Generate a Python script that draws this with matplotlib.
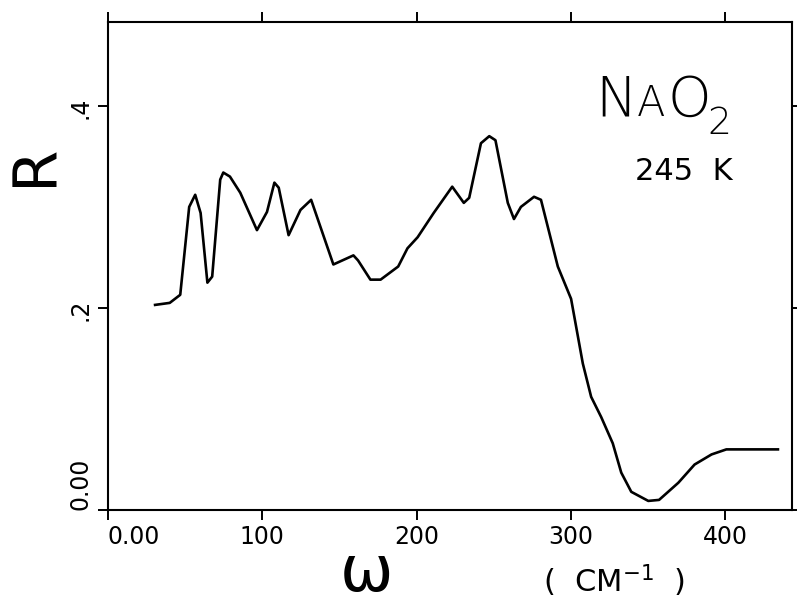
import matplotlib
matplotlib.use("Agg")
import matplotlib.pyplot as plt

# reflectivity of NaO2 at 245 K
omega = [30.5, 40, 46.8, 52.6, 56.5, 60, 64.4, 67.5, 72.7, 74.7, 79, 85.7, 96.5, 103,
         107.8, 110.6, 117, 124.7, 131.6, 146, 159, 162, 170, 176.6, 188, 194, 200.6,
         211, 223, 230.5, 234, 241.6, 247, 251, 259, 263, 267.5, 276, 280.5, 291.4,
         300, 307.6, 313, 319.5, 327, 332.5, 339, 350, 357, 369.5, 380, 391, 400.6, 434]
refl = [0.203, 0.205, 0.213, 0.300, 0.312, 0.294, 0.225, 0.231, 0.327, 0.334, 0.330,
        0.314, 0.277, 0.295, 0.324, 0.319, 0.272, 0.297, 0.307, 0.243, 0.252, 0.247,
        0.228, 0.228, 0.241, 0.259, 0.270, 0.294, 0.320, 0.304, 0.309, 0.363, 0.370,
        0.366, 0.304, 0.288, 0.300, 0.310, 0.307, 0.241, 0.209, 0.145, 0.112, 0.092,
        0.066, 0.037, 0.018, 0.009, 0.010, 0.027, 0.045, 0.055, 0.060, 0.060]

xticks = [0, 100, 200, 300, 400]
xlabels = ["0.00", "100", "200", "300", "400"]
yticks = [0, 0.2, 0.4]
ylabels = ["0.00", ".2", ".4"]

plt.rcParams["font.family"] = ["DejaVu Sans"]

fig = plt.figure(figsize=(7.97, 6.06), dpi=100)
ax = fig.add_axes([0.1355, 0.1584, 0.858, 0.8053])

ax.plot(omega, refl, color="black", lw=1.9, solid_joinstyle="round")

ax.set_xlim(0, 443)
ax.set_ylim(0, 0.483)

ax.set_xticks(xticks)
ax.set_xticklabels(xlabels, fontsize=17)
ax.set_yticks(yticks)
ax.set_yticklabels(ylabels, fontsize=17, rotation=90)
ax.get_xticklabels()[0].set_ha("left")
ax.get_yticklabels()[0].set_va("bottom")

ax.tick_params(axis="both", direction="out", width=1.4, length=7, pad=4,
               top=True, right=True)
ax.tick_params(axis="x", which="both", top=True, labeltop=False)
ax.tick_params(axis="y", right=True, labelright=False)
for s in ax.spines.values():
    s.set_linewidth(1.5)

# axis labels
fig.text(0.045, 0.728, "R", fontsize=44, rotation=90, ha="center", va="center")
fig.text(0.46, 0.004, "\u03c9", fontsize=46, ha="center", va="bottom")
fig.text(0.771, 0.022, "(  CM$^{-1}$  )", fontsize=22, ha="center", va="baseline")

# sample label
lab = dict(transform=ax.transAxes, ha="left", va="baseline", fontweight="light")
ax.text(0.712, 0.808, "N", fontsize=40, **lab)
ax.text(0.773, 0.808, "A", fontsize=30, **lab)
ax.text(0.818, 0.808, "O", fontsize=40, **lab)
ax.text(0.877, 0.77, "2", fontsize=27, **lab)
ax.text(0.914, 0.677, "245  K", transform=ax.transAxes, fontsize=22, ha="right",
        va="baseline")

fig.savefig("out.png", dpi=100)
